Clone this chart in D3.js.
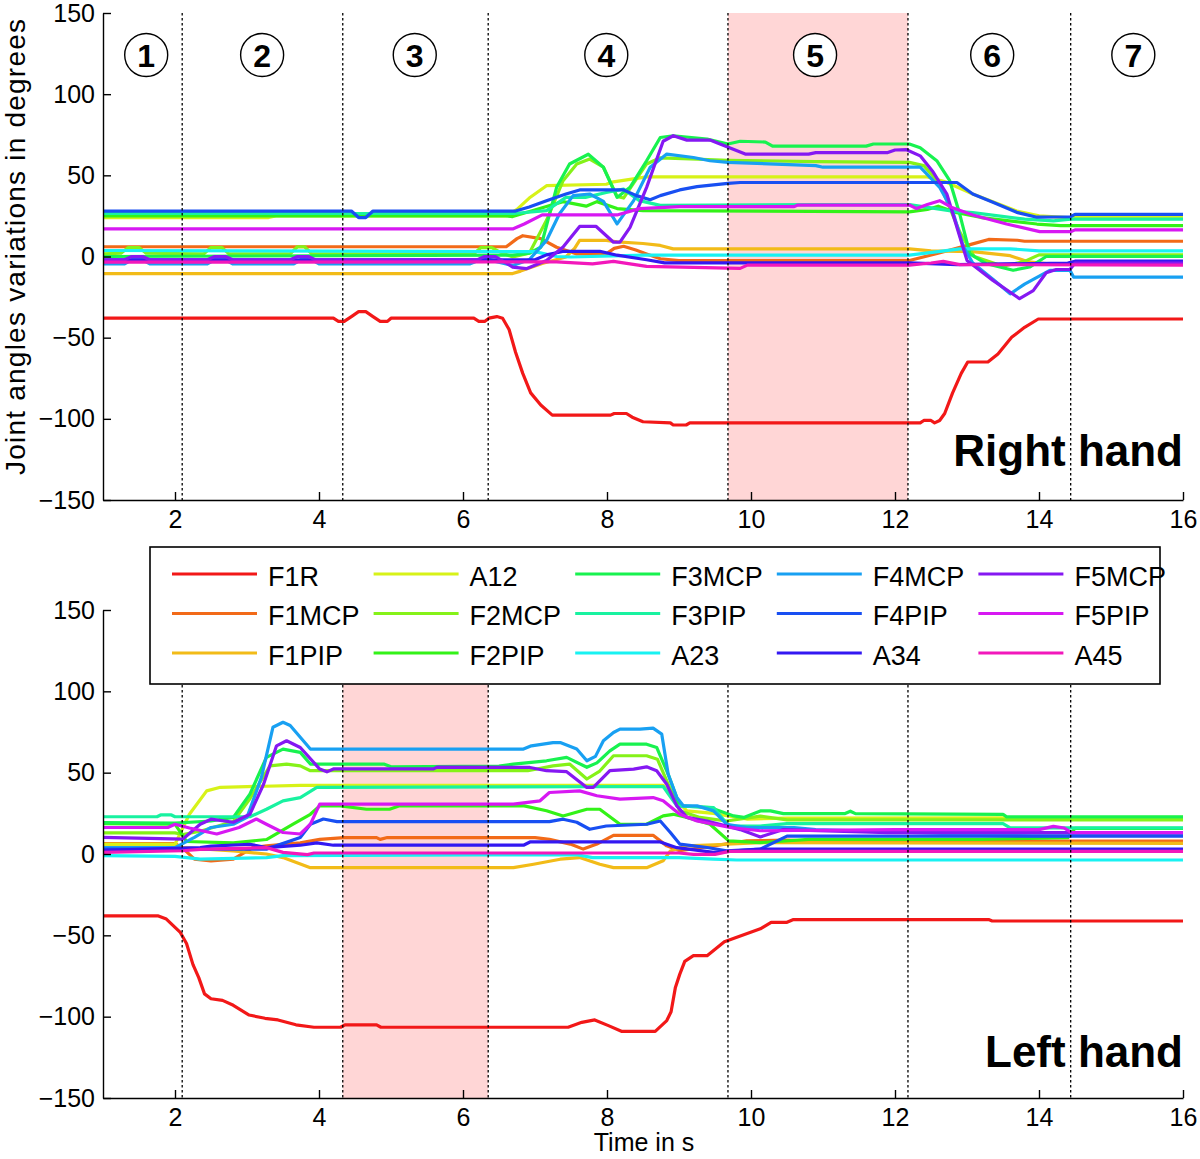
<!DOCTYPE html>
<html><head><meta charset="utf-8">
<script src="https://cdn.jsdelivr.net/npm/d3@7"></script>
<style>body{margin:0;background:#fff}</style>
</head><body>
<svg id="c" width="1200" height="1159" xmlns="http://www.w3.org/2000/svg"></svg>
<script>
// ---------- labels & categories ----------
const seriesNames = ["F1R","F1MCP","F1PIP","A12","F2MCP","F2PIP","F3MCP","F3PIP","A23","F4MCP","F4PIP","A34","F5MCP","F5PIP","A45"];
const seriesColors = ["#f21818","#f26a18","#f2bb18","#d7f218","#85f218","#33f218","#18f24f","#18f2a0","#18f2f2","#18a0f2","#184ff2","#3318f2","#8518f2","#d718f2","#f218bb"];
const xTicks = [2,4,6,8,10,12,14,16];
const yTicks = [-150,-100,-50,0,50,100,150];
const phaseBounds = [2.1,4.33,6.35,9.68,12.18,14.44];
const phaseLabels = ["1","2","3","4","5","6","7"];
const phaseLabelT = [1.6,3.21,5.33,7.99,10.89,13.35,15.31];
const rightHold = [9.68,12.18];
const leftHold = [4.33,6.35];

// ---------- Right hand (time s, degrees) ----------
const R_F1R = [[1,-38],[4.2,-38],[4.27,-40],[4.35,-40],[4.45,-37],[4.55,-34],[4.65,-34],[4.75,-37],[4.85,-40],[4.95,-40],[5.0,-38],[6.15,-38],[6.22,-40],[6.3,-40],[6.36,-38],[6.47,-37],[6.55,-38],[6.64,-45],[6.73,-59],[6.83,-72],[6.94,-84],[7.08,-91.5],[7.24,-97.7],[8.05,-97.7],[8.1,-96.7],[8.27,-96.7],[8.35,-99],[8.5,-101.8],[8.88,-102.5],[8.92,-103.8],[9.1,-103.8],[9.15,-102.5],[12.35,-102.5],[12.4,-101],[12.5,-101],[12.55,-102.5],[12.62,-101],[12.69,-96.7],[12.8,-84],[12.92,-72],[13.01,-65],[13.29,-65],[13.43,-60],[13.62,-49.8],[13.8,-43.6],[13.99,-38.5],[16,-38.5]];
const R_F1MCP = [[1,6],[6.6,6],[6.75,11],[6.83,12.8],[7.08,11],[7.3,5.7],[7.58,1.6],[7.99,1.6],[8.1,5],[8.23,6.3],[8.4,4],[8.55,1.6],[8.74,-1.4],[9.0,-2.5],[12.2,-2.5],[12.6,2],[13.08,7.8],[13.3,10.5],[13.7,10],[13.8,9.4],[16,9.4]];
const R_F1PIP = [[1,-10.5],[6.69,-10.5],[6.8,-9],[7.1,-4.3],[7.43,-0.3],[7.55,5],[7.62,9.9],[7.99,9.9],[8.14,9],[8.5,8],[8.74,6.8],[8.92,4.7],[12.2,4.7],[12.5,3.5],[13.08,3],[13.6,0.5],[13.85,-3.3],[14.1,-4.3],[16,-4.3]];
const R_A12 = [[1,24],[3.3,24],[3.4,25],[6.6,25],[6.75,29],[6.92,36],[7.16,43.6],[7.99,44.5],[8.09,46],[8.55,49],[12.45,49],[12.7,46],[13.08,38.5],[13.69,28],[14.0,25],[14.4,24],[16,24]];
const R_F2MCP = [[1,1.6],[1.25,2],[1.35,5.5],[1.5,5.5],[1.6,2],[2.4,1.6],[2.5,5.5],[2.65,5.5],[2.75,1.6],[3.6,1.6],[3.7,6],[3.8,6],[3.9,1.6],[6.15,1.6],[6.25,5.5],[6.4,5.5],[6.5,3],[6.69,-0.3],[6.92,2],[7.16,22.3],[7.39,46.7],[7.58,57],[7.76,60],[7.95,55],[8.14,37],[8.23,36],[8.55,57],[8.74,60.8],[9.68,59.3],[10.9,58.5],[12.2,58],[12.4,56],[12.62,45],[12.9,15],[13.1,0],[13.5,-6],[13.8,-3],[14.0,1],[16,1]];
const R_F2PIP = [[1,25],[6.6,25],[6.69,24.6],[7.16,30.8],[7.39,33.8],[7.71,31],[7.86,33.8],[8.14,29.5],[8.5,28.3],[12.2,27.5],[12.45,29],[12.6,31],[12.86,27],[13.2,24],[13.97,20],[14.3,19],[16,19]];
const R_F3MCP = [[1,0],[6.69,0.8],[6.92,2],[7.08,5.7],[7.3,42.6],[7.48,57],[7.74,63],[7.95,55],[8.14,36.4],[8.32,42.6],[8.55,59],[8.74,73.3],[8.92,74.4],[9.39,72.3],[9.68,69.3],[9.85,71],[10.2,70.5],[10.3,68],[11.6,68],[11.7,69.3],[12.2,69.3],[12.35,67],[12.58,59],[12.76,46.7],[12.9,26],[13.04,1.6],[13.27,-4.5],[13.64,-8.5],[13.87,-6.5],[14.1,0],[16,0]];
const R_F3PIP = [[1,26.5],[6.7,26.5],[7.16,28.3],[7.43,36.4],[7.7,36.4],[7.99,39.4],[8.23,41.5],[8.45,34.4],[8.74,31.5],[10.9,32],[12.2,32],[12.5,30],[12.8,28],[13.08,27],[13.8,23],[14.2,22],[14.44,23],[16,23]];
const R_A23 = [[1,3.7],[7.0,3],[7.3,0],[7.5,-0.3],[8.5,0.8],[12.2,0.8],[12.6,3],[12.9,4.7],[13.6,4.7],[14.0,3.5],[16,3.5]];
const R_F4MCP = [[1,-4.5],[1.3,-4.5],[1.4,-2],[1.55,-2],[1.65,-4.5],[2.45,-4.5],[2.55,-2],[2.7,-2],[2.8,-4.5],[3.65,-4.5],[3.75,-2],[3.9,-2],[4.0,-4.5],[6.1,-4.5],[6.3,-1],[6.45,-3],[6.69,-5.5],[6.92,-2],[7.16,9.9],[7.34,26.3],[7.53,37.5],[7.76,38.5],[7.95,34],[8.14,20.1],[8.37,34.4],[8.6,55],[8.83,63.1],[9.2,61],[9.43,59],[9.68,58],[10.9,56],[11.0,55],[12.35,55],[12.62,42.6],[12.8,28],[12.95,6],[13.08,-4],[13.36,-14],[13.6,-23],[13.8,-17],[14.15,-8.5],[14.43,-8.5],[14.48,-12.7],[16,-12.7]];
const R_F4PIP = [[1,28],[4.45,28],[4.55,24],[4.65,24],[4.75,28],[6.73,28],[6.92,30.5],[7.16,34.4],[7.43,38.5],[7.62,41],[8.23,41],[8.41,37.5],[8.6,35],[8.74,37.5],[9.01,41],[9.25,43],[9.68,45],[9.85,45.6],[12.86,45.6],[13.08,38.5],[13.36,33.4],[13.69,27.2],[13.97,24.2],[14.44,24.5],[14.5,26],[16,26]];
const R_A34 = [[1,-2],[7.0,-2],[7.16,1],[7.4,3.2],[7.9,3.2],[8.14,0.8],[8.55,-2],[8.8,-3.9],[12.2,-3.9],[12.86,-5],[14.4,-4],[14.5,-2.9],[16,-2.9]];
const R_F5MCP = [[1,-2],[1.3,-2],[1.4,0],[1.55,0],[1.65,-2],[2.45,-2],[2.55,0],[2.7,0],[2.8,-2],[3.6,-2],[3.7,0],[3.85,0],[3.95,-2],[6.2,-2],[6.3,0],[6.45,0],[6.69,-6.5],[6.88,-7.5],[7.16,-2.4],[7.39,5.8],[7.62,18.5],[7.85,18.5],[8.09,8.8],[8.18,8.8],[8.32,18],[8.55,42.6],[8.78,71],[8.92,74.4],[9.11,71.7],[9.43,71.7],[9.92,63.1],[10.8,63.1],[10.9,64],[11.9,64],[12.0,65.6],[12.16,65.8],[12.35,62],[12.53,52],[12.72,38.5],[12.86,18],[13.0,-2.4],[13.36,-14.7],[13.73,-26],[13.92,-21],[14.1,-10],[14.24,-8],[14.43,-8],[14.5,-4],[16,-4]];
const R_F5PIP = [[1,17],[6.69,17],[6.85,20],[7.1,25.6],[8.14,25.6],[8.45,29.5],[9.01,30.7],[10.6,30.7],[10.65,31.7],[12.2,31.7],[12.3,29.5],[12.45,32],[12.62,34.4],[12.8,30],[13.08,25.6],[13.55,20],[14.01,15.3],[14.44,15.3],[14.5,16.4],[16,16.4]];
const R_A45 = [[1,-3.5],[7.3,-3.3],[7.8,-4.5],[8.09,-3],[8.55,-6.1],[9.85,-7.3],[9.95,-5.3],[12.2,-5.3],[12.5,-4],[12.67,-3],[12.9,-5],[16,-5.3]];

// ---------- Left hand (time s, degrees) ----------
const L_F1R = [[1,-38],[1.76,-38],[1.88,-40],[2.07,-48],[2.16,-55],[2.25,-68],[2.33,-76],[2.41,-86],[2.5,-89],[2.66,-90],[2.81,-93],[3.03,-99],[3.25,-101],[3.43,-102],[3.68,-105],[3.93,-106.5],[4.3,-106.5],[4.36,-105],[4.8,-105],[4.86,-106.5],[7.46,-106.5],[7.65,-103.5],[7.83,-102],[8.02,-105.5],[8.2,-109],[8.67,-109],[8.83,-102.4],[8.89,-97],[8.95,-82],[9.01,-74],[9.08,-66],[9.2,-62.5],[9.39,-62.5],[9.63,-54],[9.88,-50],[10.13,-46],[10.28,-42],[10.5,-42],[10.59,-40.3],[13.3,-40.3],[13.35,-41.2],[16,-41.2]];
const L_F1MCP = [[1,6.4],[2.0,6.4],[2.1,3.9],[2.27,-3.2],[2.5,-4.2],[2.81,-3.2],[3.08,3.9],[3.27,5],[3.74,6.9],[4.01,9],[4.35,10.1],[4.8,10.1],[4.85,9],[4.95,10.1],[7.0,10.1],[7.2,9],[7.49,6.1],[7.67,3],[7.86,6.1],[8.09,11.5],[8.64,11.5],[8.83,5],[9.01,2],[9.48,5],[9.94,8.1],[10.5,8.5],[10.8,8],[16,8]];
const L_F1PIP = [[1,6],[2.0,6],[2.11,3.9],[2.81,1.9],[3.27,0],[3.5,-2.2],[3.88,-8.4],[6.7,-8.4],[6.98,-6.3],[7.35,-3.2],[7.62,-2.2],[7.9,-6.3],[8.09,-8.4],[8.55,-8.4],[8.78,-4.2],[8.88,1.9],[9.11,5],[9.66,6],[10.13,7],[16,6.5]];
const L_A12 = [[1,6],[2.0,6],[2.2,24.4],[2.44,38.8],[2.63,41],[3.74,42.2],[8.78,42.2],[8.92,35],[9.11,26.5],[9.48,25],[9.94,21.5],[10.5,22],[16,22.5]];
const L_F2MCP = [[1,13],[2.0,13],[2.11,12],[2.35,14],[2.81,20],[3.04,34],[3.32,54.2],[3.55,55.3],[3.74,54.2],[3.88,51.2],[6.9,51.2],[7.25,54.2],[7.48,55.3],[7.72,46.1],[7.9,51],[8.09,60.4],[8.55,60.4],[8.7,58.3],[8.83,45],[9.01,26.5],[9.29,22.5],[9.66,20.3],[10.13,23.3],[10.5,21],[16,21]];
const L_F2PIP = [[1,18.7],[2.0,18.3],[2.16,7.7],[2.81,6.9],[3.27,8.9],[3.64,18.3],[3.88,24.4],[4.01,29.6],[4.3,29.6],[4.66,27.5],[4.98,27.5],[5.12,29.6],[6.85,29.6],[7.16,26.6],[7.39,23.4],[7.72,27.5],[7.9,27.5],[8.18,18.3],[8.55,18.3],[8.78,23.4],[8.92,24.4],[9.11,22.5],[9.43,18.3],[9.69,8.1],[10.13,7],[10.8,9],[13.2,9],[14.4,10],[14.5,15.8],[16,15.8]];
const L_F3MCP = [[1,19.3],[2.0,19],[2.5,20.3],[2.81,22.5],[3.04,36.8],[3.27,59.4],[3.5,64.5],[3.74,62.5],[3.88,55.3],[4.9,55.3],[5.0,53.6],[6.5,54],[6.7,55.3],[7.16,57.3],[7.44,59.4],[7.72,53.3],[7.86,56],[8.04,63.4],[8.18,67.5],[8.55,67.5],[8.69,65.5],[8.85,49],[9.01,29.6],[9.43,28.6],[9.76,23.4],[9.9,22.5],[10.13,26.5],[10.27,26.5],[10.45,24.8],[11.3,24.8],[11.38,26.3],[11.45,24.8],[13.5,24.4],[13.55,22.8],[16,22.8]];
const L_F3PIP = [[1,22.9],[1.75,22.9],[1.8,24],[1.95,24],[2.0,22.9],[3.04,22.9],[3.27,27.5],[3.5,32.7],[3.74,34.7],[3.97,40.9],[8.78,41.5],[8.97,29.6],[9.48,28.6],[9.69,17.2],[10.13,17.2],[10.5,18.7],[13.5,18.7],[13.6,16],[16,16]];
const L_A23 = [[1,-1],[2.0,-1.5],[2.35,-3.2],[3.27,-2.2],[3.5,-1],[6.24,-0.6],[7.6,-0.6],[7.8,-2.2],[9.0,-2.2],[9.48,-3.2],[9.8,-3.7],[16,-3.7]];
const L_F4MCP = [[1,3.9],[2.0,3.9],[2.27,10.2],[2.5,16.3],[2.81,18.3],[3.0,22.5],[3.2,47.1],[3.36,77.9],[3.5,81],[3.6,79],[3.88,64.5],[6.84,64.5],[6.95,66.5],[7.25,68.5],[7.35,68.5],[7.58,64.5],[7.72,57.3],[7.84,60],[7.95,69.6],[8.09,74.7],[8.18,76.8],[8.46,76.8],[8.64,77.4],[8.76,73.7],[8.85,49],[8.97,34.7],[9.06,29.6],[9.25,29.6],[9.48,26.5],[9.66,18.3],[9.94,16.3],[10.6,16.2],[10.9,15],[13.9,11.1],[14.4,11.1],[14.5,11.7],[16,11.7]];
const L_F4PIP = [[1,3],[3.27,3],[3.74,10.2],[3.88,18.3],[4.06,21.5],[4.25,19.9],[7.2,19.9],[7.39,21.4],[7.58,19.5],[7.76,15.2],[7.99,17.2],[8.55,18.3],[8.74,20.3],[8.88,13.2],[9.01,6.1],[9.39,4],[9.66,2],[10.13,3],[10.5,11],[16,11]];
const L_A34 = [[1,2.3],[2.35,3.9],[2.5,4.8],[3.04,6],[3.27,3.9],[3.74,5.4],[3.97,6.8],[4.2,5.4],[6.84,5.4],[6.93,7.4],[8.74,7.4],[8.97,3.9],[9.48,1],[10.13,3],[16,3]];
const L_F5MCP = [[1,10.2],[2.11,9.2],[2.35,18.3],[2.5,21.4],[2.81,19.5],[3.04,24.4],[3.23,42.9],[3.41,66.5],[3.55,69.6],[3.74,65.5],[4.01,52.2],[4.11,50.5],[4.2,52.3],[5.59,52.3],[5.64,53.4],[6.93,53.2],[7.16,51.2],[7.44,50.6],[7.72,40.9],[7.81,40.9],[8.04,51.2],[8.37,52.2],[8.55,53.6],[8.69,51.2],[8.83,42.9],[8.97,29.6],[9.11,22.5],[9.39,20.3],[9.85,15],[10.13,10.5],[10.45,15],[11.9,13.2],[16,13.2]];
const L_F5PIP = [[1,16.3],[1.9,16.3],[2.0,18.3],[2.2,16],[2.58,12.3],[2.89,16.3],[3.13,21.5],[3.27,18.3],[3.5,13.2],[3.74,12.3],[3.88,18.3],[4.01,30.7],[6.7,30.7],[7.07,32.7],[7.2,37.8],[7.62,38.8],[7.86,35.8],[8.18,33.7],[8.64,34.7],[8.78,32.7],[9.01,24.4],[9.25,20.3],[9.71,16.3],[10.13,14.3],[12,15],[14.0,15],[14.2,17],[14.35,16],[14.45,13.1],[16,13.1]];
const L_A45 = [[1,1],[2.11,2],[2.35,2.9],[3.27,3.9],[3.5,1],[3.84,-0.4],[3.93,0.6],[9.0,0.6],[9.2,-0.2],[9.5,-0.2],[9.7,1.6],[16,1.6]];

const rightSeries = [R_F1R,R_F1MCP,R_F1PIP,R_A12,R_F2MCP,R_F2PIP,R_F3MCP,R_F3PIP,R_A23,R_F4MCP,R_F4PIP,R_A34,R_F5MCP,R_F5PIP,R_A45];
const leftSeries  = [L_F1R,L_F1MCP,L_F1PIP,L_A12,L_F2MCP,L_F2PIP,L_F3MCP,L_F3PIP,L_A23,L_F4MCP,L_F4PIP,L_A34,L_F5MCP,L_F5PIP,L_A45];

// ---------- drawing ----------
const FONT = "'Liberation Sans', Arial, Helvetica, sans-serif";
const svg = d3.select("#c").style("font-family", FONT);
svg.append("rect").attr("width",1200).attr("height",1159).attr("fill","#fff");

const x = d3.scaleLinear().domain([1,16]).range([103,1183]);
const panels = [
  {series: rightSeries, hold: rightHold, y: d3.scaleLinear().domain([-150,150]).range([500,13]), title: "Right hand", titleY: 466, circles: true},
  {series: leftSeries,  hold: leftHold,  y: d3.scaleLinear().domain([-150,150]).range([1098,610]), title: "Left hand", titleY: 1067, circles: false}
];

panels.forEach(p => {
  const g = svg.append("g");
  const [y0, y1] = p.y.range();
  // shaded hold phase
  g.append("rect")
    .attr("x", x(p.hold[0])).attr("width", x(p.hold[1]) - x(p.hold[0]))
    .attr("y", y1).attr("height", y0 - y1)
    .attr("fill", "#ffd6d6");
  // series lines
  const line = d3.line().x(d => x(d[0])).y(d => p.y(d[1])).curve(d3.curveLinear);
  p.series.forEach((s, i) => {
    g.append("path").attr("d", line(s)).attr("fill","none")
      .attr("stroke", seriesColors[i]).attr("stroke-width", 3.2)
      .attr("stroke-linejoin","round");
  });
  // phase boundaries
  phaseBounds.forEach(t => {
    g.append("line").attr("x1", x(t)).attr("x2", x(t)).attr("y1", y1).attr("y2", y0)
      .attr("stroke","#000").attr("stroke-width",1.3).attr("stroke-dasharray","2.5,2.5");
  });
  // axes
  const ax = g.append("g").attr("transform", `translate(0,${y0})`)
    .call(d3.axisBottom(x).tickValues(xTicks).tickSize(-8).tickSizeOuter(0).tickPadding(10));
  const ay = g.append("g").attr("transform", `translate(${x(1)},0)`)
    .call(d3.axisLeft(p.y).tickValues(yTicks).tickSize(-8).tickSizeOuter(0).tickPadding(8));
  [ax, ay].forEach(a => {
    a.selectAll("path,line").attr("stroke","#000").attr("stroke-width",1.4);
    a.selectAll("text").attr("fill","#000").style("font-size","25px").style("font-family", FONT);
  });
  // title
  g.append("text").attr("x", 1183).attr("y", p.titleY).attr("text-anchor","end")
    .style("font-size","44px").style("font-weight","bold").attr("fill","#000").text(p.title);
  // circled phase numbers
  if (p.circles) {
    phaseLabels.forEach((lab, k) => {
      const cx = x(phaseLabelT[k]);
      g.append("circle").attr("cx", cx).attr("cy", 55).attr("r", 21.5)
        .attr("fill","#fff").attr("stroke","#000").attr("stroke-width",1.4);
      g.append("text").attr("x", cx).attr("y", 55).attr("dy","0.36em").attr("text-anchor","middle")
        .style("font-size","32px").style("font-weight","bold").attr("fill","#000").text(lab);
    });
  }
});

// axis titles
svg.append("text").attr("transform","translate(25,247) rotate(-90)").attr("text-anchor","middle")
  .attr("textLength", 456).attr("lengthAdjust","spacing")
  .style("font-size","28px").attr("fill","#000").text("Joint angles variations in degrees");
svg.append("text").attr("x", 644).attr("y", 1151).attr("text-anchor","middle")
  .style("font-size","25px").attr("fill","#000").text("Time in s");

// legend
const lg = svg.append("g");
lg.append("rect").attr("x",150).attr("y",547).attr("width",1010).attr("height",137)
  .attr("fill","#fff").attr("stroke","#000").attr("stroke-width",1.6);
seriesNames.forEach((name, i) => {
  const col = Math.floor(i / 3), row = i % 3;
  const lx = 172 + col * 201.6, ly = 574 + row * 39.5;
  lg.append("line").attr("x1", lx).attr("x2", lx + 85).attr("y1", ly).attr("y2", ly)
    .attr("stroke", seriesColors[i]).attr("stroke-width", 3);
  lg.append("text").attr("x", lx + 96).attr("y", ly + 2).attr("dy","0.36em")
    .style("font-size","27px").attr("fill","#000").text(name);
});
</script>
</body></html>
